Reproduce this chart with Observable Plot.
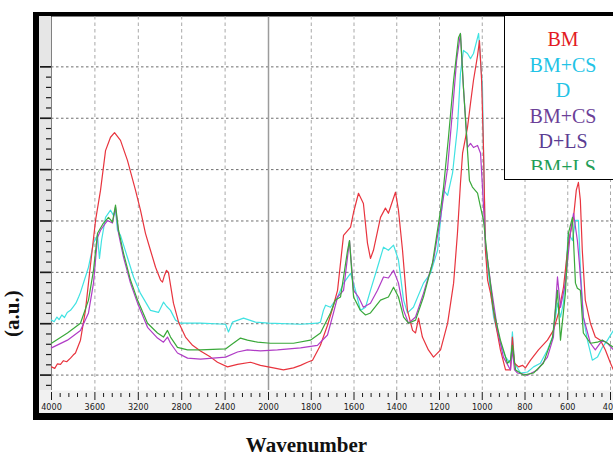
<!DOCTYPE html>
<html>
<head>
<meta charset="utf-8">
<script src="https://cdn.jsdelivr.net/npm/d3@7"></script>
<script src="https://cdn.jsdelivr.net/npm/@observablehq/plot@0.6"></script>
<style>
  html, body { margin: 0; padding: 0; background: #fff; }
  #page { position: relative; width: 613px; height: 456px; overflow: hidden; background: #fff; }
  #frame { position: absolute; left: 33px; top: 12px; width: 620px; height: 408px; background: #000; }
  #leftRuler { position: absolute; left: 39px; top: 16px; width: 12px; height: 374px; background: #e6e6e6; }
  #bottomRuler { position: absolute; left: 39px; top: 390px; width: 600px; height: 23px; background: #f1f1f1; }
  #chart { position: absolute; left: 0; top: 0; }
  #legend { position: absolute; left: 504px; top: 16px; width: 117px; height: 164px; box-sizing: border-box;
            background: #fff; border-left: 1px solid #000; border-bottom: 1px solid #000; }
  #legendInner { position: absolute; left: 0; top: 0; width: 116px; height: 154px; overflow: hidden;
            font-family: "Liberation Serif", "DejaVu Serif", serif; font-size: 20px; line-height: 25.5px;
            text-align: center; padding-top: 11px; box-sizing: border-box; }
  #xtitle { position: absolute; left: 0; top: 435px; width: 613px; text-align: center;
            font-family: "Liberation Serif", serif; font-weight: bold; font-size: 21px; line-height: 21px; color: #111; }
  #ytitle { position: absolute; left: 2px; top: 337px; transform: rotate(-90deg); transform-origin: 0 0;
            font-family: "Liberation Serif", serif; font-weight: bold; font-size: 21px; line-height: 21px; color: #111; white-space: nowrap; }
</style>
</head>
<body>
<div id="page">
  <div id="frame"></div>
  <div id="leftRuler"></div>
  <div id="bottomRuler"></div>
  <div id="chart"></div>
  <div id="legend"><div id="legendInner"></div></div>
  <div id="xtitle"></div>
  <div id="ytitle"></div>
</div>
<script>
// ---- Data (wavenumber in cm-1, absorbance in a.u.) ----
const bmWn = [4000,3970,3945,3917,3890,3860,3825,3800,3779,3733,3687,3641,3594,3548,3502,3456,3419,3364,3300,3226,3180,3134,3088,3041,2995,2977,2959,2940,2922,2903,2876,2829,2765,2700,2627,2534,2470,2378,2286,2166,2074,1977,1930,1883,1850,1818,1794,1757,1724,1696,1677,1649,1616,1602,1579,1556,1537,1523,1509,1476,1453,1439,1406,1392,1373,1350,1326,1312,1298,1280,1252,1228,1195,1162,1134,1116,1102,1092,1069,1055,1041,1022,1013,1003,994,985,975,961,938,915,891,868,859,849,830,812,798,774,737,695,667,643,620,597,573,560,550,541,532,518,494,471,447,424,400,386];
const bmAbs = [1.16,1.13,1.22,1.21,1.28,1.26,1.33,1.39,1.43,1.68,2.26,3.14,4.01,4.60,5.37,5.63,5.72,5.57,5.18,4.60,4.21,3.76,3.43,3.10,2.85,2.81,2.94,3.04,3.00,2.75,2.40,2.03,1.74,1.58,1.47,1.35,1.25,1.16,1.21,1.25,1.19,1.14,1.10,1.14,1.19,1.25,1.29,1.58,1.97,2.36,2.65,3.72,3.88,4.17,4.54,4.34,3.57,3.27,3.43,4.07,4.25,4.15,4.56,4.21,3.43,2.26,1.87,1.82,2.11,1.74,1.49,1.35,1.49,2.01,2.79,3.76,4.73,5.32,5.82,6.29,6.74,7.22,7.51,6.74,5.37,3.43,2.85,2.59,2.01,1.49,1.10,1.10,1.74,1.23,1.16,1.19,1.14,1.29,1.49,1.68,1.87,2.21,2.71,3.57,4.07,4.60,4.75,4.40,3.43,2.46,2.01,1.74,1.68,1.49,1.23,1.10];

const dWn = [4000,3975,3950,3930,3905,3880,3855,3825,3800,3775,3750,3733,3659,3613,3576,3558,3539,3502,3456,3429,3410,3392,3364,3300,3244,3180,3088,3014,2968,2940,2903,2857,2811,2627,2396,2369,2332,2230,2120,2000,1850,1771,1757,1743,1733,1710,1677,1649,1616,1593,1570,1546,1523,1490,1462,1439,1415,1392,1368,1350,1322,1275,1242,1209,1181,1162,1139,1116,1102,1088,1069,1055,1041,1022,1017,1008,999,994,985,961,947,915,891,868,859,849,821,788,760,728,695,671,648,634,620,597,578,564,550,541,527,508,485,461,438,414,386];
const dAbs = [2.07,2.04,2.13,2.08,2.17,2.12,2.22,2.26,2.33,2.40,2.52,2.61,3.10,3.57,3.72,3.27,3.62,4.07,4.21,4.11,4.21,3.82,3.72,3.29,2.91,2.59,2.26,2.22,2.42,2.34,2.26,2.07,2.01,2.01,1.99,1.84,2.03,2.11,2.03,2.01,1.99,2.01,2.03,2.26,2.36,2.32,2.52,2.79,2.98,2.65,2.26,2.32,2.65,3.10,3.49,3.43,3.53,3.24,2.46,2.21,2.32,2.79,2.98,3.43,4.60,4.50,4.93,5.82,6.87,7.32,7.26,7.16,7.26,7.57,7.65,7.12,6.60,5.32,3.43,2.65,2.13,1.62,1.35,1.23,1.84,1.23,1.04,1.06,1.16,1.23,1.49,1.74,2.40,2.13,2.40,3.76,3.62,4.01,4.01,3.10,2.13,1.68,1.29,1.35,1.54,1.68,1.87];

const dlsWn = [4000,3853,3733,3659,3613,3576,3548,3484,3438,3410,3382,3336,3272,3207,3115,3023,2968,2931,2903,2839,2746,2627,2396,2286,2194,2074,1958,1850,1771,1724,1696,1677,1649,1621,1602,1579,1556,1523,1490,1462,1439,1415,1392,1368,1345,1312,1275,1228,1195,1162,1139,1120,1102,1088,1069,1055,1041,1022,1008,999,985,961,928,901,868,859,849,835,788,742,695,667,648,634,611,588,573,555,546,527,494,471,438,414,386];
const dlsAbs = [1.53,1.68,1.87,2.21,2.79,3.68,3.82,4.01,3.96,4.27,3.76,3.29,2.79,2.40,1.93,1.72,1.64,1.74,1.62,1.43,1.33,1.31,1.35,1.45,1.49,1.47,1.49,1.53,1.58,1.78,2.21,2.52,2.65,3.62,2.65,2.52,2.32,2.40,2.65,2.91,2.89,3.04,2.79,2.26,2.01,2.13,2.59,3.24,4.07,5.04,6.15,7.12,7.65,6.60,5.43,5.51,5.43,5.47,5.32,4.66,3.57,2.79,1.87,1.35,1.10,1.49,1.10,1.04,1.00,1.10,1.35,1.74,2.91,2.32,2.79,3.76,4.15,3.62,3.20,2.13,1.62,1.49,1.68,1.62,1.49];

const bmlsWn = [4000,3853,3733,3659,3613,3576,3521,3475,3438,3410,3382,3336,3272,3207,3115,3023,2968,2931,2903,2839,2746,2627,2396,2350,2258,2194,2101,1991,1883,1804,1757,1710,1687,1663,1630,1621,1602,1570,1546,1523,1476,1439,1415,1392,1368,1345,1312,1275,1233,1195,1181,1158,1134,1111,1102,1088,1069,1060,1046,1022,1008,994,975,947,915,882,868,859,844,807,760,714,671,648,634,611,597,578,564,555,541,527,494,461,438,414,386];
const bmlsAbs = [1.62,1.82,2.01,2.46,3.04,3.76,3.96,4.07,3.98,4.31,3.82,3.37,2.85,2.46,2.01,1.82,1.74,1.87,1.74,1.54,1.49,1.49,1.51,1.58,1.72,1.68,1.64,1.62,1.62,1.68,1.82,2.21,2.46,2.52,3.43,3.62,2.52,2.26,2.17,2.21,2.46,2.52,2.71,2.52,2.13,2.01,2.07,2.52,3.18,4.21,4.66,5.63,6.74,7.57,7.65,6.60,5.37,4.79,4.66,4.54,4.27,4.01,3.24,2.26,1.68,1.23,1.29,1.58,1.10,1.00,1.04,1.23,1.74,2.65,1.68,2.59,3.76,4.07,2.79,2.69,2.65,1.82,1.62,1.64,1.68,1.62,1.54];

const lineNames  = ["D", "BM", "D+LS", "BM+LS"];
const lineColors = ["#40e2e2", "#e8343e", "#b03cc6", "#3aa83a"];

const legendLabels = ["BM", "BM+CS", "D", "BM+CS", "D+LS", "BM+LS"];
const legendColors = ["#e31b23", "#22c3e6", "#22c3e6", "#6b3f98", "#5b3d92", "#1f9e57"];

const xMajorTicks = [4000, 3600, 3200, 2800, 2400, 2000, 1800, 1600, 1400, 1200, 1000, 800, 600, 400];
const xGridTicks  = [3600, 3200, 2800, 2400, 1800, 1600, 1400, 1200, 1000, 800, 600, 400];
const yGridTicks  = [1, 2, 3, 4, 5, 6, 7];

// ---- Build table ----
const seriesData = {"BM": [bmWn, bmAbs], "D": [dWn, dAbs], "D+LS": [dlsWn, dlsAbs], "BM+LS": [bmlsWn, bmlsAbs]};
const rows = lineNames.flatMap(name => {
  const [wn, ab] = seriesData[name];
  return wn.map((w, i) => ({series: name, wn: w, abs: ab[i]}));
});

const xMinorTicks = [...d3.range(4000, 2000, -80), ...d3.range(2000, 399, -40)].filter(v => !xMajorTicks.includes(v));
const yMinorTicks = d3.range(8, 72, 2).map(v => v / 10).filter(v => !Number.isInteger(v));

const chart = Plot.plot({
  width: 613,
  height: 420,
  marginLeft: 51,
  marginRight: 0,
  marginTop: 16,
  marginBottom: 30,
  style: {background: "transparent", color: "#1a1a1a",
          fontFamily: "'Liberation Sans Narrow', 'DejaVu Sans Condensed', 'Liberation Sans', sans-serif", fontSize: "9px"},
  x: {type: "linear", domain: [4000, 2000, 400], range: [51, 268, 610], label: null},
  y: {domain: [0.7, 8], range: [390, 15], label: null},
  color: {domain: lineNames, range: lineColors},
  marks: [
    Plot.frame({fill: "white", stroke: "none"}),
    Plot.ruleY(yGridTicks, {stroke: "#6e6e6e", strokeDasharray: "2.5,2.5", strokeWidth: 1}),
    Plot.ruleX(xGridTicks, {stroke: "#a8a8a8", strokeDasharray: "3.5,3", strokeWidth: 1}),
    Plot.ruleX([2000], {stroke: "#9c9c9c", strokeWidth: 1.5}),
    Plot.axisY(yGridTicks, {anchor: "left", tickSize: 11, tickFormat: () => "", strokeWidth: 1.7, label: null}),
    Plot.axisY(yMinorTicks, {anchor: "left", tickSize: 5, tickFormat: () => "", strokeWidth: 1.2, label: null}),
    Plot.axisX(xMajorTicks, {anchor: "bottom", tickSize: 8, tickPadding: 3, dy: 2, tickFormat: d => String(d), label: null}),
    Plot.axisX(xMinorTicks, {anchor: "bottom", tickSize: 4, dy: 3, tickFormat: () => "", label: null}),
    Plot.line(rows, {x: "wn", y: "abs", z: "series", stroke: "series", strokeWidth: 1.2})
  ]
});
document.getElementById("chart").appendChild(chart);

// ---- Legend box (overlaid on the plot, top right) ----
const legend = document.getElementById("legendInner");
legendLabels.forEach((lab, i) => {
  const d = document.createElement("div");
  d.textContent = lab;
  d.style.color = legendColors[i];
  legend.appendChild(d);
});

document.getElementById("xtitle").textContent = "Wavenumber";
document.getElementById("ytitle").textContent = "(a.u.)";
</script>
</body>
</html>
